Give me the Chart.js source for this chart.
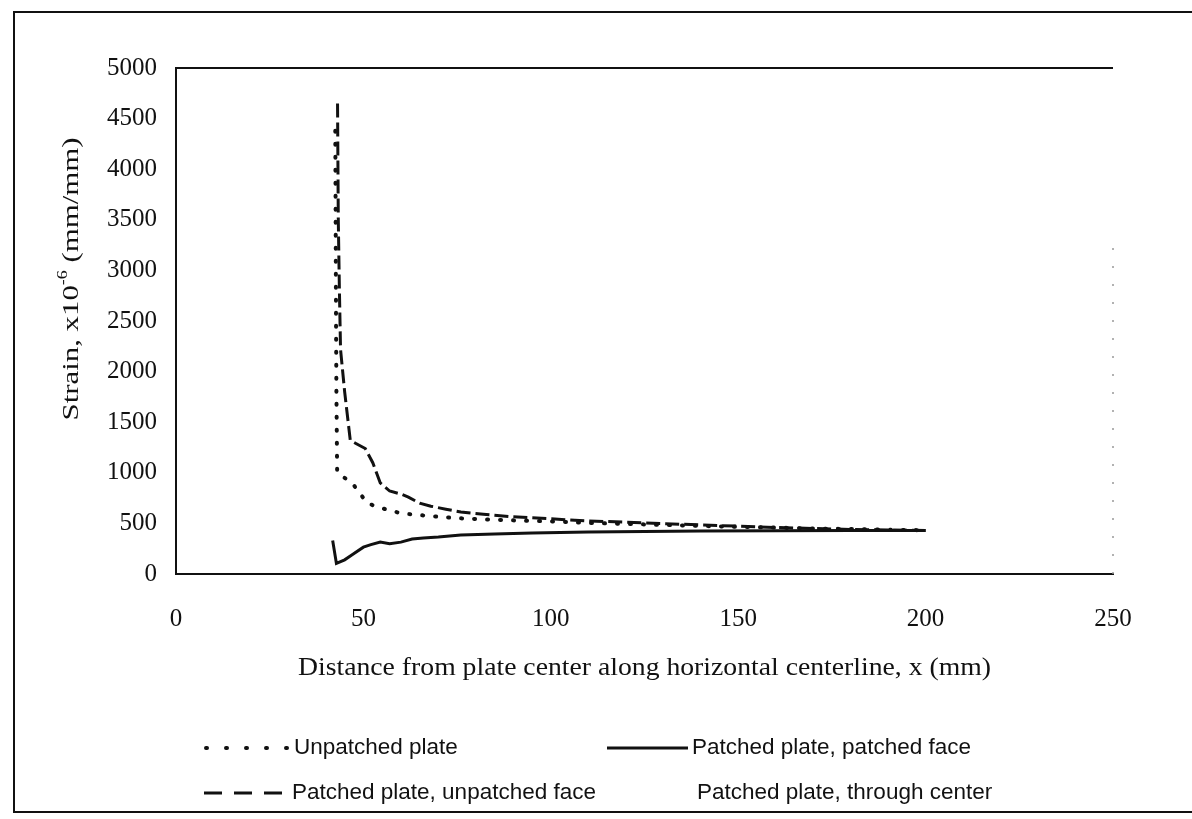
<!DOCTYPE html>
<html>
<head>
<meta charset="utf-8">
<script src="https://cdn.jsdelivr.net/npm/chart.js@4.4.1/dist/chart.umd.min.js"></script>
<style>
  html, body { margin: 0; padding: 0; background: #fff; overflow: hidden; }
  #wrap { position: relative; width: 1192px; height: 819px; }
  #frame { position: absolute; left: 13px; top: 11px; width: 1200px; height: 802px; border: 2px solid #111; box-sizing: border-box; }
  #strain { position: absolute; left: 0; top: 0; }
</style>
</head>
<body>
<div id="wrap">
  <div id="frame"></div>
  <canvas id="strain" width="1192" height="819"></canvas>
</div>
<script>
// values (x in mm, strain in 1e-6 mm/mm)
const unpatchedX = [42.5, 42.6, 42.7, 42.8, 43, 45, 47, 49, 51, 54, 57, 60, 64, 68, 72, 76, 82, 90, 100, 110, 120, 130, 140, 150, 160, 170, 180, 190, 200];
const unpatchedY = [4380, 3500, 2500, 1800, 1000, 950, 900, 800, 700, 660, 630, 600, 585, 572, 560, 550, 540, 530, 520, 505, 495, 485, 475, 466, 458, 450, 444, 438, 432];

const unpFaceX = [43.1, 43.3, 43.6, 43.9, 45, 46.5, 48, 50.5, 52.5, 54.5, 57, 60, 62, 65, 68, 72, 76, 82, 90, 100, 110, 125, 140, 160, 180, 200];
const unpFaceY = [4650, 3500, 2800, 2220, 1800, 1320, 1290, 1240, 1100, 900, 820, 790, 760, 700, 670, 640, 612, 590, 565, 545, 525, 505, 485, 460, 440, 430];

const patFaceX = [41.8, 42.8, 45, 47, 50, 52, 54.5, 57, 60, 63, 66, 70, 76, 85, 95, 110, 125, 140, 160, 180, 200];
const patFaceY = [330, 105, 140, 190, 265, 290, 315, 300, 315, 345, 355, 365, 385, 395, 405, 415, 420, 425, 428, 430, 430];

const centerX = [];
const centerY = [];

const xTicks = [0, 50, 100, 150, 200, 250];
const yTicks = [0, 500, 1000, 1500, 2000, 2500, 3000, 3500, 4000, 4500, 5000];

const toPoints = (xs, ys) => xs.map((x, i) => ({ x: x, y: ys[i] }));

const serif = '"Liberation Serif", "Times New Roman", serif';
const sans = '"Liberation Sans", Arial, sans-serif';

const datasets = [];
datasets.push({
  label: 'Unpatched plate',
  data: toPoints(unpatchedX, unpatchedY),
  borderColor: '#111',
  borderWidth: 4,
  borderDash: [1, 12],
  borderCapStyle: 'round',
  legendDash: [1, 19],
  legendAt: [206, 748, 84]
});
datasets.push({
  label: 'Patched plate, patched face',
  data: toPoints(patFaceX, patFaceY),
  borderColor: '#111',
  borderWidth: 3,
  legendAt: [607, 748, 81]
});
datasets.push({
  label: 'Patched plate, unpatched face',
  data: toPoints(unpFaceX, unpFaceY),
  borderColor: '#111',
  borderWidth: 3,
  borderDash: [14, 5],
  legendDash: [18, 12],
  legendAt: [204, 793, 84]
});
datasets.push({
  label: 'Patched plate, through center',
  data: toPoints(centerX, centerY),
  borderColor: 'rgba(0, 0, 0, 0)',
  borderWidth: 0,
  legendAt: [611, 793, 82]
});

// frame lines, axis titles and legend
const decor = {
  id: 'decor',
  afterDraw(chart) {
    const ctx = chart.ctx;
    const a = chart.chartArea;
    ctx.save();
    ctx.strokeStyle = '#111';
    ctx.lineWidth = 2;
    ctx.beginPath();
    ctx.moveTo(a.left, a.top);
    ctx.lineTo(a.right, a.top);
    ctx.stroke();
    ctx.strokeStyle = '#999';
    ctx.lineWidth = 1.5;
    ctx.setLineDash([2, 16]);
    ctx.beginPath();
    ctx.moveTo(a.right, a.top + 180);
    ctx.lineTo(a.right, a.bottom);
    ctx.stroke();
    ctx.setLineDash([]);

    // x title
    ctx.fillStyle = '#111';
    ctx.font = '25px ' + serif;
    ctx.textAlign = 'center';
    ctx.textBaseline = 'middle';
    const xt = 'Distance from plate center along horizontal centerline, x (mm)';
    const xtw = ctx.measureText(xt).width;
    ctx.save();
    ctx.translate((a.left + a.right) / 2, 668);
    ctx.scale(693 / xtw, 1);
    ctx.fillText(xt, 0, 0);
    ctx.restore();

    // y title with superscript
    ctx.translate(72, 279);
    ctx.rotate(-Math.PI / 2);
    const p1 = 'Strain, x10';
    const p2 = '-6';
    const p3 = ' (mm/mm)';
    ctx.font = '24px ' + serif;
    const w1 = ctx.measureText(p1).width;
    const w3 = ctx.measureText(p3).width;
    ctx.font = '14px ' + serif;
    const w2 = ctx.measureText(p2).width;
    const k = 283 / (w1 + w2 + w3);
    ctx.scale(k, 1);
    const x0 = -(w1 + w2 + w3) / 2;
    ctx.textAlign = 'left';
    ctx.font = '24px ' + serif;
    ctx.fillText(p1, x0, 0);
    ctx.font = '14px ' + serif;
    ctx.fillText(p2, x0 + w1, -9);
    ctx.font = '24px ' + serif;
    ctx.fillText(p3, x0 + w1 + w2, 0);
    ctx.restore();

    // legend
    ctx.save();
    chart.data.datasets.forEach(ds => {
      const [lx, ly, lw] = ds.legendAt;
      if (ds.borderWidth > 0) {
        ctx.strokeStyle = ds.borderColor;
        ctx.lineWidth = ds.borderWidth;
        ctx.lineCap = ds.borderCapStyle || 'butt';
        ctx.setLineDash(ds.legendDash || ds.borderDash || []);
        ctx.beginPath();
        ctx.moveTo(lx, ly);
        ctx.lineTo(lx + lw, ly);
        ctx.stroke();
      }
      ctx.setLineDash([]);
      ctx.fillStyle = '#111';
      ctx.font = '22.5px ' + sans;
      ctx.textAlign = 'left';
      ctx.textBaseline = 'middle';
      ctx.fillText(ds.label, lx + lw + 4, ly);
    });
    ctx.restore();
  }
};

new Chart(document.getElementById('strain').getContext('2d'), {
  type: 'line',
  data: { datasets: datasets },
  options: {
    responsive: false,
    animation: false,
    layout: { padding: { left: 0, top: 68, right: 79, bottom: 0 } },
    elements: { point: { radius: 0 }, line: { tension: 0, fill: false } },
    plugins: {
      legend: { display: false },
      tooltip: { enabled: false }
    },
    scales: {
      x: {
        type: 'linear',
        min: 0,
        max: 250,
        afterFit: s => { s.height = 245; },
        afterBuildTicks: s => { s.ticks = xTicks.map(v => ({ value: v })); },
        grid: { display: false, drawTicks: false },
        border: { display: true, color: '#111', width: 2 },
        ticks: {
          padding: 30,
          color: '#111',
          font: { family: serif, size: 25 },
          callback: v => String(v)
        }
      },
      y: {
        type: 'linear',
        min: 0,
        max: 5000,
        afterFit: s => { s.width = 176; },
        afterBuildTicks: s => { s.ticks = yTicks.map(v => ({ value: v })); },
        grid: { display: false, drawTicks: false },
        border: { display: true, color: '#111', width: 2 },
        ticks: {
          padding: 19,
          color: '#111',
          font: { family: serif, size: 25 },
          callback: v => String(v)
        }
      }
    }
  },
  plugins: [decor]
});
</script>
</body>
</html>
